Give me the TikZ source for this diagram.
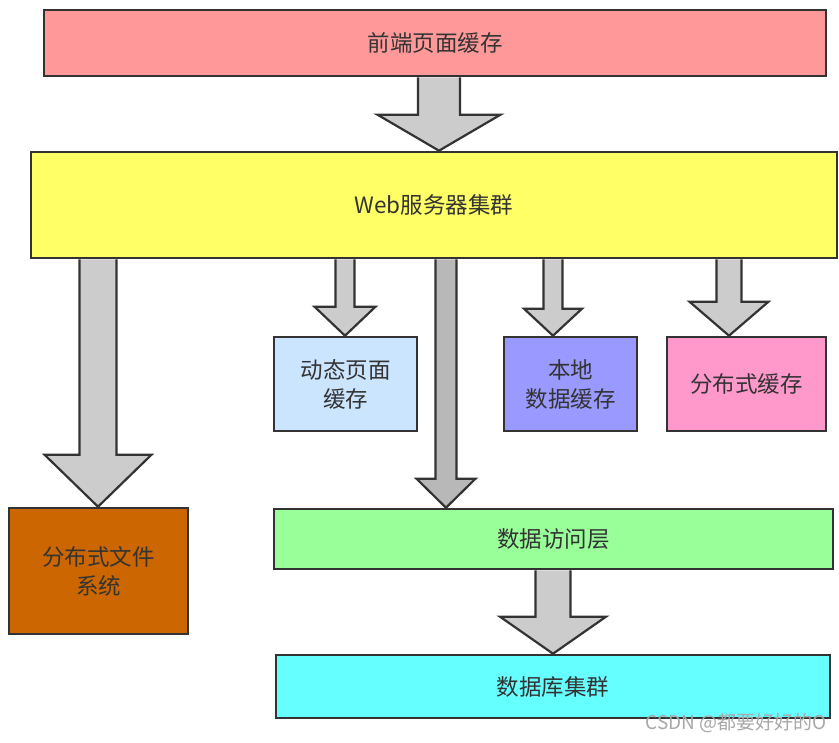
\documentclass[tikz,border=0pt]{standalone}
\usepackage{fontspec}
\setmainfont{Noto Sans CJK SC}
\usetikzlibrary{calc}
\definecolor{cTop}{HTML}{FF9999}
\definecolor{cWeb}{HTML}{FFFF66}
\definecolor{cDyn}{HTML}{CCE5FF}
\definecolor{cLoc}{HTML}{9999FF}
\definecolor{cDst}{HTML}{FF99CC}
\definecolor{cDfs}{HTML}{CC6600}
\definecolor{cDal}{HTML}{99FF99}
\definecolor{cDb}{HTML}{66FFFF}
\definecolor{cArr}{HTML}{CCCCCC}
\definecolor{cArrD}{HTML}{B8B8B8}
\definecolor{cLine}{HTML}{333333}
\definecolor{cText}{HTML}{333333}
\definecolor{cMark}{HTML}{A8A8A8}
\tikzset{
  box/.style={draw=cLine, line width=2.6pt, inner sep=0pt, align=center,
    text=cText, font=\fontsize{22.5}{29}\selectfont},
  arrline/.style={draw=cLine, line width=2.2pt, line join=miter},
}
% #1 fill colour, #2 source node, #3 target node, #4 x, #5 shaft half width, #6 head half width, #7 head length
\newcommand\blockarrow[7]{%
  \fill[#1] let \p1=(#2.south), \p2=(#3.north) in
    (#4pt-#5pt,\y1) -- (#4pt-#5pt,\y2+#7pt) -- (#4pt-#6pt,\y2+#7pt) -- (#4pt,\y2)
    -- (#4pt+#6pt,\y2+#7pt) -- (#4pt+#5pt,\y2+#7pt) -- (#4pt+#5pt,\y1) -- cycle;
  \draw[arrline] let \p1=(#2.south), \p2=(#3.north) in
    (#4pt-#5pt,\y1) -- (#4pt-#5pt,\y2+#7pt) -- (#4pt-#6pt,\y2+#7pt) -- (#4pt,\y2)
    -- (#4pt+#6pt,\y2+#7pt) -- (#4pt+#5pt,\y2+#7pt) -- (#4pt+#5pt,\y1);
}
\begin{document}
\begin{tikzpicture}[x=1pt,y=-1pt]
\useasboundingbox[fill=white] (0,0) rectangle (839,743);
\node[box, fill=cTop, minimum width=782pt, minimum height=66pt] (top) at (435,43) {前端页面缓存};
\node[box, fill=cWeb, minimum width=806pt, minimum height=106pt] (web) at (434,205) {Web服务器集群};
\node[box, fill=cDyn, minimum width=143pt, minimum height=94pt] (dyn) at (345.5,384) {动态页面\\缓存};
\node[box, fill=cLoc, minimum width=133pt, minimum height=94pt] (loc) at (570.5,384) {本地\\数据缓存};
\node[box, fill=cDst, minimum width=159pt, minimum height=94pt] (dst) at (746.5,384) {分布式缓存};
\node[box, fill=cDfs, minimum width=179pt, minimum height=126pt] (dfs) at (98.5,571) {分布式文件\\系统};
\node[box, fill=cDal, minimum width=559pt, minimum height=60pt] (dal) at (553.5,539) {数据访问层};
\node[box, fill=cDb, minimum width=554pt, minimum height=63pt] (db) at (553,686.5) {数据库集群};

\blockarrow{cArr}{top}{web}{439}{21}{61.5}{36}
\blockarrow{cArr}{web}{dfs}{98}{18.5}{53.5}{52}
\blockarrow{cArr}{web}{dyn}{345}{9.5}{30.5}{29}
\blockarrow{cArrD}{web}{dal}{446}{10.5}{29.5}{29}
\blockarrow{cArr}{web}{loc}{553}{9.5}{29}{27}
\blockarrow{cArr}{web}{dst}{729}{12.5}{39.5}{34}
\blockarrow{cArr}{dal}{db}{553}{17.5}{53}{37}

\node[anchor=east, inner sep=0pt, text=cMark, font=\fontsize{19}{21}\selectfont] (mark) at (827,723) {CSDN @都要好好的O};
\end{tikzpicture}
\end{document}
